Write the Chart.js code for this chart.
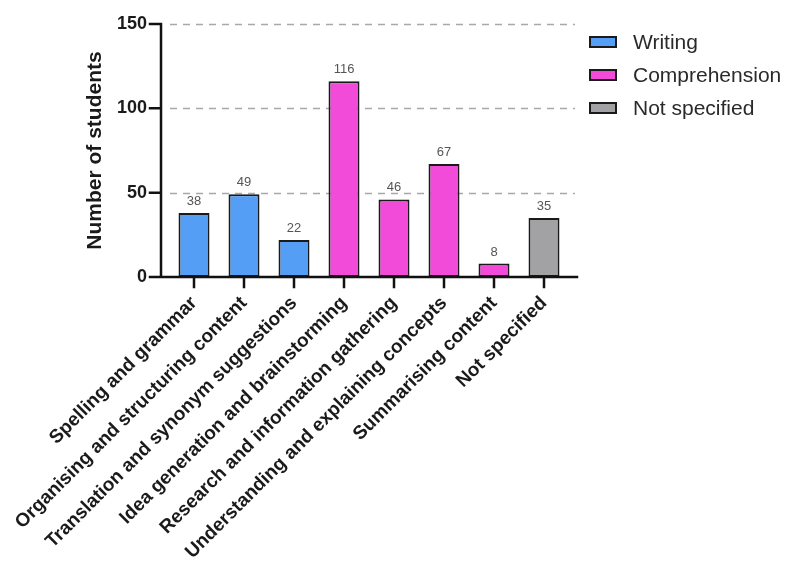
<!DOCTYPE html>
<html>
<head>
<meta charset="utf-8">
<title>AI tool use by category</title>
<script src="https://cdn.jsdelivr.net/npm/chart.js@4"></script>
<style>
  html, body { margin: 0; padding: 0; background: #fff; }
  #wrap { width: 785px; height: 565px; position: relative; }
</style>
</head>
<body>
<div id="wrap"><canvas id="usageChart"></canvas></div>
<script>
// Categories along the x axis
const categories = [
  "Spelling and grammar",
  "Organising and structuring content",
  "Translation and synonym suggestions",
  "Idea generation and brainstorming",
  "Research and information gathering",
  "Understanding and explaining concepts",
  "Summarising content",
  "Not specified",
];

// Number of students per category, split by purpose group
const writingValues       = [38, 49, 22, null, null, null, null, null];
const comprehensionValues = [null, null, null, 116, 46, 67, 8, null];
const notSpecifiedValues  = [null, null, null, null, null, null, null, 35];

const yTicks = [0, 50, 100, 150];

const seriesColors = {
  Writing: "#559ef6",
  Comprehension: "#f24ad9",
  "Not specified": "#a2a2a5",
};

const FONT = "'Liberation Sans', Arial, Helvetica, sans-serif";

// Axis lines, tick marks, dashed grid, value labels and the legend
const axesPlugin = {
  id: "axesPlugin",
  beforeDatasetsDraw(chart) {
    const { ctx, chartArea, scales } = chart;
    ctx.save();
    ctx.strokeStyle = "#a8a8a8";
    ctx.lineWidth = 1.5;
    ctx.setLineDash([7, 6]);
    yTicks.filter(v => v > 0).forEach(v => {
      const y = Math.round(scales.y.getPixelForValue(v)) + 0.5;
      ctx.beginPath();
      ctx.moveTo(chartArea.left + 1, y);
      ctx.lineTo(chartArea.right + 6, y);
      ctx.stroke();
    });
    ctx.restore();
  },
  afterDatasetsDraw(chart) {
    const { ctx, chartArea, scales } = chart;
    const axisX = chartArea.left - 8;
    const axisY = scales.y.getPixelForValue(0);
    ctx.save();
    ctx.strokeStyle = "#111";
    ctx.lineWidth = 2.5;
    ctx.lineCap = "square";

    // y axis line and its ticks
    ctx.beginPath();
    ctx.moveTo(axisX, scales.y.getPixelForValue(150));
    ctx.lineTo(axisX, axisY);
    yTicks.forEach(v => {
      const y = scales.y.getPixelForValue(v);
      ctx.moveTo(axisX - 11, y);
      ctx.lineTo(axisX, y);
    });
    // x axis line and its ticks
    ctx.moveTo(axisX - 11, axisY);
    ctx.lineTo(chartArea.right + 8, axisY);
    categories.forEach((c, i) => {
      const x = scales.x.getPixelForValue(i);
      ctx.moveTo(x, axisY);
      ctx.lineTo(x, axisY + 10);
    });
    ctx.stroke();

    // value labels above the bars
    ctx.fillStyle = "#555";
    ctx.font = "13px " + FONT;
    ctx.textAlign = "center";
    ctx.textBaseline = "bottom";
    chart.data.datasets.forEach((ds, di) => {
      const meta = chart.getDatasetMeta(di);
      ds.data.forEach((v, i) => {
        if (v === null) return;
        const bar = meta.data[i];
        ctx.fillText(String(v), bar.x, bar.y - 5);
      });
    });

    // legend
    const legendX = chartArea.right + 21;
    const legendTop = 42;
    const rowGap = 33;
    ctx.font = "21px " + FONT;
    ctx.textAlign = "left";
    ctx.textBaseline = "middle";
    chart.data.datasets.forEach((ds, di) => {
      const cy = legendTop + di * rowGap;
      ctx.fillStyle = ds.backgroundColor;
      ctx.fillRect(legendX, cy - 5, 26, 10);
      ctx.lineWidth = 2;
      ctx.strokeStyle = "#1a1a1a";
      ctx.strokeRect(legendX, cy - 5, 26, 10);
      ctx.fillStyle = "#2a2a2a";
      ctx.fillText(ds.label, legendX + 43, cy + 1);
    });
    ctx.restore();
  },
};

function makeDataset(label, values) {
  return {
    label: label,
    data: values,
    backgroundColor: seriesColors[label],
    borderColor: "#1a1a1a",
    borderWidth: 2,
    borderSkipped: false,
    grouped: false,
    barPercentage: 0.62,
    categoryPercentage: 1,
  };
}

const ctx = document.getElementById("usageChart").getContext("2d");

new Chart(ctx, {
  type: "bar",
  data: {
    labels: categories,
    datasets: [
      makeDataset("Writing", writingValues),
      makeDataset("Comprehension", comprehensionValues),
      makeDataset("Not specified", notSpecifiedValues),
    ],
  },
  options: {
    responsive: true,
    maintainAspectRatio: false,
    animation: false,
    layout: { padding: { top: 24, right: 216, left: 0, bottom: 0 } },
    plugins: {
      legend: { display: false },
      tooltip: { enabled: false },
    },
    scales: {
      x: {
        grid: { display: false, drawTicks: false },
        border: { display: false },
        ticks: {
          autoSkip: false,
          maxRotation: 45,
          minRotation: 45,
          padding: 15,
          color: "#1a1a1a",
          font: { family: FONT, size: 19, weight: "bold" },
        },
        afterFit(scale) { scale.height = 288; },
      },
      y: {
        min: 0,
        max: 150,
        grid: { display: false, drawTicks: false },
        border: { display: false },
        afterBuildTicks(scale) { scale.ticks = yTicks.map(v => ({ value: v })); },
        ticks: {
          padding: 22,
          color: "#1a1a1a",
          font: { family: FONT, size: 18, weight: "bold" },
        },
        title: {
          display: true,
          text: "Number of students",
          color: "#1a1a1a",
          padding: { top: 83, bottom: 0 },
          font: { family: FONT, size: 21, weight: "bold" },
        },
        afterFit(scale) {
          scale.width = 169;
          // the tick padding should not push the plot area down
          scale.paddingTop = 0;
          scale.paddingBottom = 0;
        },
      },
    },
  },
  plugins: [axesPlugin],
});
</script>
</body>
</html>
